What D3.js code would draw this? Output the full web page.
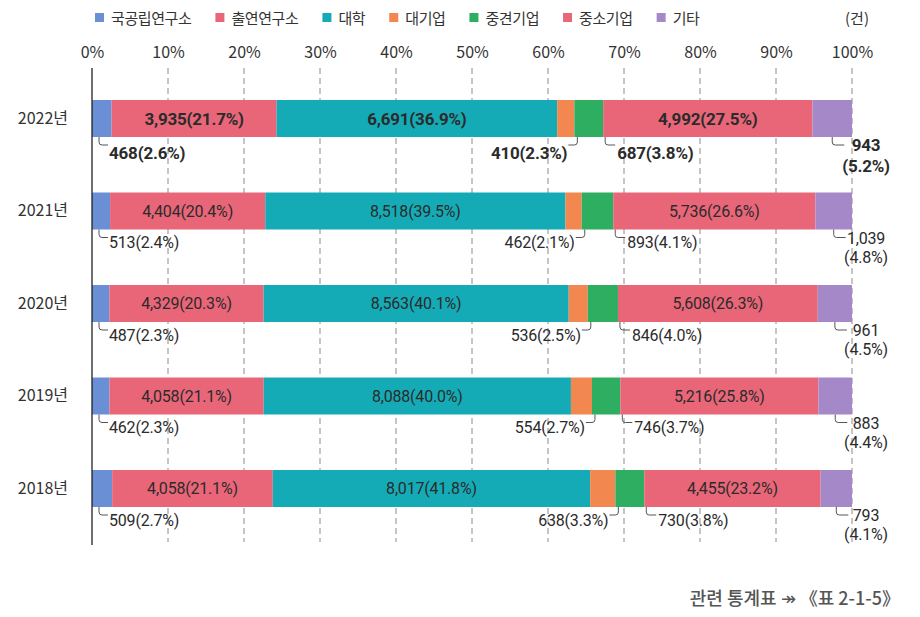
<!DOCTYPE html>
<html><head><meta charset="utf-8">
<script src="https://cdn.jsdelivr.net/npm/d3@7"></script>
<style>
html,body{margin:0;padding:0;background:#fff;}
svg{display:block;font-family:"Noto Sans CJK KR","Noto Sans",sans-serif;}
</style></head>
<body>
<svg id="chart" width="920" height="617"></svg>
<script>
// ---- data ----
const years = ["2022년","2021년","2020년","2019년","2018년"];
const categories = ["국공립연구소","출연연구소","대학","대기업","중견기업","중소기업","기타"];
const valNational   = [468, 513, 487, 462, 509];
const valGovFunded  = [3935, 4404, 4329, 4058, 4058];
const valUniversity = [6691, 8518, 8563, 8088, 8017];
const valLarge      = [410, 462, 536, 554, 638];
const valMidsize    = [687, 893, 846, 746, 730];
const valSmall      = [4992, 5736, 5608, 5216, 4455];
const valOther      = [943, 1039, 961, 883, 793];
const pctNational   = [2.6, 2.4, 2.3, 2.3, 2.7];
const pctGovFunded  = [21.7, 20.4, 20.3, 21.1, 21.1];
const pctUniversity = [36.9, 39.5, 40.1, 40.0, 41.8];
const pctLarge      = [2.3, 2.1, 2.5, 2.7, 3.3];
const pctMidsize    = [3.8, 4.1, 4.0, 3.7, 3.8];
const pctSmall      = [27.5, 26.6, 26.3, 25.8, 23.2];
const pctOther      = [5.2, 4.8, 4.5, 4.4, 4.1];
const tickLabels = ["0%","10%","20%","30%","40%","50%","60%","70%","80%","90%","100%"];
const unitLabel = "(건)";
const sourceNote = "관련 통계표 ↠ 《표 2-1-5》";

const colors = ["#6b8fd4","#e96679","#14abb6","#f2884f","#2eae60","#e96679","#a588c8"];

const seriesVals = [valNational,valGovFunded,valUniversity,valLarge,valMidsize,valSmall,valOther];
const seriesPct  = [pctNational,pctGovFunded,pctUniversity,pctLarge,pctMidsize,pctSmall,pctOther];

const rows = years.map((y,i)=>{
  const r = {year:y};
  categories.forEach((c,k)=>{ r[c] = seriesVals[k][i]; });
  return r;
});

const svg = d3.select("#chart");
const x = d3.scaleLinear().domain([0,1]).range([92,852]);
const y = d3.scaleBand().domain(years).range([100,507]).paddingInner(0.6).paddingOuter(0);
const color = d3.scaleOrdinal().domain(categories).range(colors);
const fmt = d3.format(",");
const textCol = "#2b2b2b";
const FF = '"Noto Sans CJK KR","Noto Sans",sans-serif';
const NF = 'Roboto,"Noto Sans",sans-serif';

// gridlines
const gTop = 68, gBot = 542;
svg.append("g").selectAll("line").data(d3.range(1,11).map(d=>d/10)).join("line")
  .attr("x1",d=>x(d)).attr("x2",d=>x(d)).attr("y1",gTop).attr("y2",gBot)
  .attr("stroke","#8a8a8a").attr("stroke-width",1).attr("stroke-dasharray","6,4");

// top axis labels
const axis = d3.axisTop(x).tickValues(d3.range(0,11).map(d=>d/10))
  .tickFormat((d,i)=>tickLabels[i]).tickSize(0).tickPadding(0);
const ax = svg.append("g").attr("transform","translate(0,58)").call(axis);
ax.select(".domain").remove();
ax.selectAll("text").attr("font-size",16).attr("fill","#333").attr("font-family",FF);

// stack
const stack = d3.stack().keys(categories).offset(d3.stackOffsetExpand);
const series = stack(rows);

svg.append("g").selectAll("g").data(series).join("g")
  .attr("fill",d=>color(d.key))
  .selectAll("rect").data(d=>d).join("rect")
  .attr("x",d=>x(d[0])).attr("width",d=>x(d[1])-x(d[0]))
  .attr("y",d=>y(d.data.year)).attr("height",y.bandwidth());

// left axis line
svg.append("line").attr("x1",x(0)).attr("x2",x(0)).attr("y1",gTop).attr("y2",gBot+3)
  .attr("stroke","#222").attr("stroke-width",1.3);

// year labels
const yAxis = d3.axisLeft(y).tickSize(0).tickPadding(24);
const ya = svg.append("g").attr("transform",`translate(${x(0)},0)`).call(yAxis);
ya.select(".domain").remove();
ya.selectAll("text").attr("font-size",16).attr("fill","#333").attr("font-family",FF);

// labels
const lab = svg.append("g").attr("font-family",NF);
const leader = svg.append("g").attr("fill","none").attr("stroke","#555").attr("stroke-width",1);
const insideIdx = [1,2,5];
years.forEach((yr,i)=>{
  const bold = i===0;
  const fs = bold ? 17 : 16;
  const fw = bold ? 700 : 400;
  const top = y(yr), bot = top + y.bandwidth(), mid = top + y.bandwidth()/2;
  const segs = series.map(s=>s[i]);
  const txt = k => fmt(seriesVals[k][i]) + "(" + seriesPct[k][i].toFixed(1) + "%)";
  const ly = bot + (bold ? 16 : 13);
  const hy = bot + 8;
  const addText = (tx, ty, anchor, s) => lab.append("text").attr("x",tx).attr("y",ty)
      .attr("text-anchor",anchor).attr("dominant-baseline","central")
      .attr("font-size",fs).attr("font-weight",fw).attr("fill",textCol)
      .attr("letter-spacing",-0.2).text(s);
  // inside labels
  insideIdx.forEach(k=>{
    addText((x(segs[k][0])+x(segs[k][1]))/2, mid, "middle", txt(k));
  });
  // national (idx 0)
  {
    const lx = x(segs[0][0]) + 7;
    leader.append("path").attr("d",`M${lx},${bot}V${hy-3}Q${lx},${hy} ${lx+3},${hy}H${lx+9}`);
    addText(lx+10, ly, "start", txt(0));
  }
  // large (idx 3)
  {
    const lx = x(segs[3][1]) + 3;
    leader.append("path").attr("d",`M${lx},${bot}V${hy-3}Q${lx},${hy} ${lx-3},${hy}H${lx-9}`);
    addText(lx-10, ly, "end", txt(3));
  }
  // midsize (idx 4)
  {
    const lx = x(segs[4][1]) + 2;
    leader.append("path").attr("d",`M${lx},${bot}V${hy-3}Q${lx},${hy} ${lx+3},${hy}H${lx+10}`);
    addText(lx+12, ly, "start", txt(4));
  }
  // other (idx 6) — two lines
  {
    const lx = (x(segs[6][0])+x(segs[6][1]))/2;
    leader.append("path").attr("d",`M${lx},${bot}V${hy-3}Q${lx},${hy} ${lx+3},${hy}H${lx+12}`);
    const cx = x(1) + 14;
    const t = lab.append("text").attr("x",cx).attr("y",bot + 14)
      .attr("text-anchor","middle")
      .attr("font-size",fs).attr("font-weight",fw).attr("fill",textCol).attr("letter-spacing",-0.2);
    t.append("tspan").attr("x",cx).attr("dy",0).text(fmt(seriesVals[6][i]));
    t.append("tspan").attr("x",cx).attr("dy",bold ? 20.5 : 19).text("(" + seriesPct[6][i].toFixed(1) + "%)");
  }
});

// legend
const leg = svg.append("g");
let lgx = 95;
categories.forEach((c,k)=>{
  leg.append("rect").attr("x",lgx).attr("y",13).attr("width",9).attr("height",9).attr("fill",colors[k]);
  const t = leg.append("text").attr("x",lgx+16).attr("y",17.5).attr("dominant-baseline","central")
    .attr("font-size",15).attr("fill","#333").attr("letter-spacing",-0.4).text(c);
  lgx = lgx + 16 + t.node().getComputedTextLength() + 24;
});
svg.append("text").attr("x",857).attr("y",17.5).attr("text-anchor","middle").attr("dominant-baseline","central")
  .attr("font-size",15).attr("fill","#333").text(unitLabel);

// source note
svg.append("text").attr("x",900).attr("y",597).attr("text-anchor","end").attr("dominant-baseline","central")
  .attr("font-size",18).attr("font-weight",500).attr("fill","#555").text(sourceNote);
</script>
</body></html>
